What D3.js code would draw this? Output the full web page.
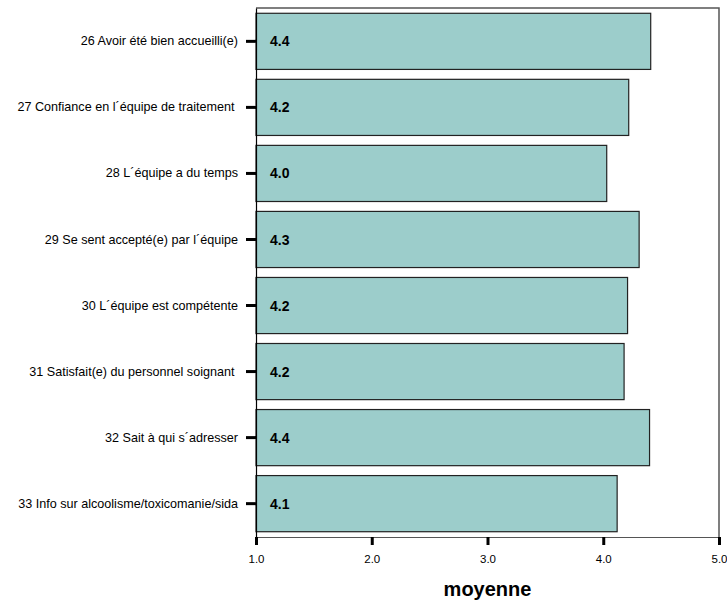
<!DOCTYPE html>
<html><head><meta charset="utf-8">
<script src="https://cdn.jsdelivr.net/npm/d3@7"></script>
<style>body{margin:0;background:#fff}svg{display:block}</style>
</head><body><svg id="c" width="727" height="601"></svg>
<script>
const categories = [
  "26 Avoir été bien accueilli(e)",
  "27 Confiance en l´équipe de traitement ",
  "28 L´équipe a du temps",
  "29 Se sent accepté(e) par l´équipe",
  "30 L´équipe est compétente",
  "31 Satisfait(e) du personnel soignant ",
  "32 Sait à qui s´adresser",
  "33 Info sur alcoolisme/toxicomanie/sida"
];
const values = [4.41, 4.22, 4.03, 4.31, 4.21, 4.18, 4.40, 4.12];
const valueLabels = ["4.4","4.2","4.0","4.3","4.2","4.2","4.4","4.1"];
const xTicks = [1,2,3,4,5];
const xTitle = "moyenne";

const svg = d3.select("#c");
const font = "Liberation Sans, Arial, sans-serif";
const L = 256, R = 719, T = 8, B = 537;
const x = d3.scaleLinear().domain([1,5]).range([L,R]);
const y = d3.scaleBand().domain(categories).range([T,B]).paddingInner(0.15).paddingOuter(0.08);

// bars
svg.selectAll("rect.bar").data(categories).join("rect").attr("class","bar")
  .attr("x",x(1)).attr("y",d=>y(d))
  .attr("width",(d,i)=>x(values[i])-x(1)).attr("height",y.bandwidth())
  .attr("fill","#9ccdcb").attr("stroke","#222").attr("stroke-width",1.2);

// frame (top and right)
svg.append("path")
  .attr("d", d3.line()([[x(1), y.range()[0]], [x(5), y.range()[0]], [x(5), y.range()[1]]]))
  .attr("fill","none").attr("stroke","#555").attr("stroke-width",1.5);

// value labels
svg.selectAll("text.val").data(categories).join("text").attr("class","val")
  .attr("x",x(1)+14).attr("y",d=>y(d)+y.bandwidth()/2).attr("dy","0.36em")
  .attr("font-family",font).attr("font-weight","bold")
  .attr("font-size",14).attr("fill","#000").text((d,i)=>valueLabels[i]);

// y axis
const yAxis = svg.append("g").attr("transform",`translate(${L},0)`)
  .call(d3.axisLeft(y).tickSize(10).tickSizeOuter(0).tickPadding(8));
yAxis.select(".domain").attr("stroke","#000").attr("stroke-width",1.2);
yAxis.selectAll(".tick line").attr("stroke","#000").attr("stroke-width",3);
yAxis.selectAll(".tick text").attr("font-family",font)
  .attr("font-size",12.6).attr("fill","#000").style("white-space","pre");

// x axis
const xAxis = svg.append("g").attr("transform",`translate(0,${B})`)
  .call(d3.axisBottom(x).tickValues(xTicks).tickFormat(d3.format(".1f")).tickSize(8).tickSizeOuter(0).tickPadding(10));
xAxis.select(".domain").attr("stroke","#555").attr("stroke-width",1.2);
xAxis.selectAll(".tick line").attr("stroke","#000").attr("stroke-width",3);
xAxis.selectAll(".tick text").attr("font-family",font)
  .attr("font-size",11.5).attr("fill","#000");

svg.append("text").attr("x",x(3)).attr("y",596).attr("text-anchor","middle")
  .attr("font-family",font).attr("font-weight","bold")
  .attr("font-size",20).text(xTitle);
</script></body></html>
